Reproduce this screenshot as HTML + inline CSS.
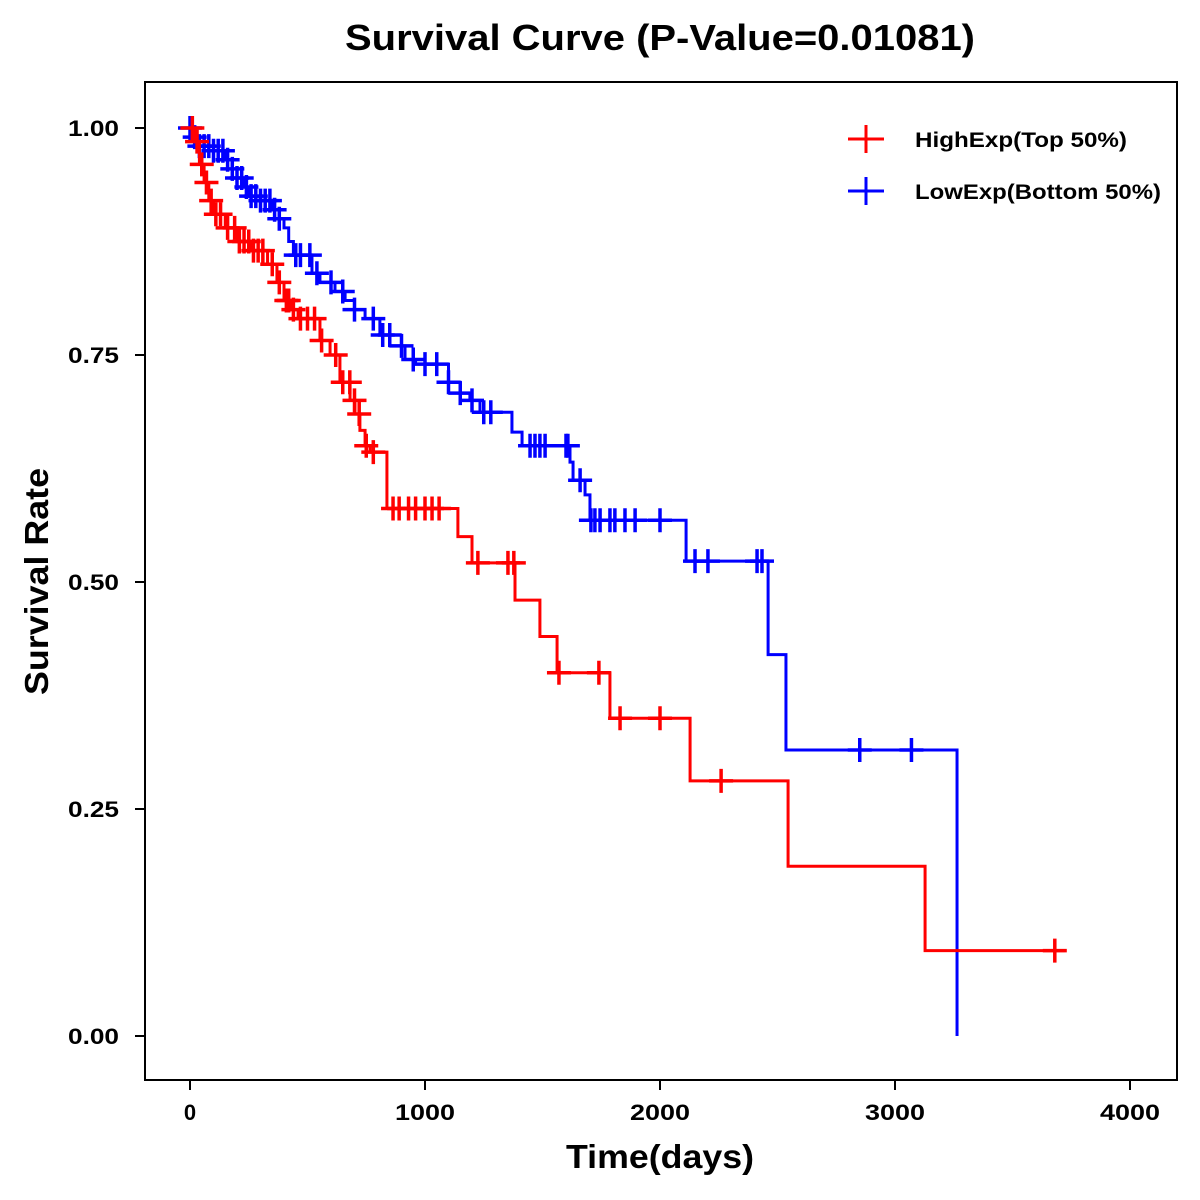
<!DOCTYPE html>
<html><head><meta charset="utf-8"><style>
body{margin:0;background:#fff;}
svg{display:block;font-family:"Liberation Sans",Arial,sans-serif;}
</style></head><body>
<svg id="chart" width="1200" height="1200">
<text x="345" y="50" font-size="36" font-weight="bold" textLength="630" lengthAdjust="spacingAndGlyphs">Survival Curve (P-Value=0.01081)</text>
<rect x="145" y="82" width="1032" height="998" fill="none" stroke="#000" stroke-width="2"/>
<text x="566" y="1168" font-size="33" font-weight="bold" textLength="188" lengthAdjust="spacingAndGlyphs">Time(days)</text>
<text transform="translate(48,695) rotate(-90)" font-size="33" font-weight="bold" textLength="227" lengthAdjust="spacingAndGlyphs">Survival Rate</text>
<g id="axes"></g>
<g id="series"></g>
<g>
<line x1="848" y1="139" x2="884" y2="139" stroke="#f00" stroke-width="3"/><line x1="866" y1="125" x2="866" y2="153" stroke="#f00" stroke-width="3"/>
<text x="915" y="147" font-size="21" font-weight="bold" textLength="212" lengthAdjust="spacingAndGlyphs">HighExp(Top 50%)</text>
<line x1="848" y1="191" x2="884" y2="191" stroke="#00f" stroke-width="3"/><line x1="866" y1="177" x2="866" y2="205" stroke="#00f" stroke-width="3"/>
<text x="915" y="199" font-size="21" font-weight="bold" textLength="246" lengthAdjust="spacingAndGlyphs">LowExp(Bottom 50%)</text>
</g>
</svg>
<script>
const xTicks=[0,1000,2000,3000,4000];
const yTicks=[0,0.25,0.5,0.75,1.0];
const yTickLabels=["0.00","0.25","0.50","0.75","1.00"];
const highTimes=[0,20,40,60,80,100,150,200,260,330,370,400,430,460,553,596,638,681,702,723,745,766,838,1140,1200,1383,1489,1562,1787,2128,2545,3128];
const highSurv=[1.0,0.985,0.96,0.94,0.92,0.905,0.89,0.875,0.865,0.85,0.83,0.81,0.80,0.79,0.766,0.75,0.72,0.70,0.685,0.667,0.65,0.643,0.581,0.55,0.521,0.48,0.44,0.40,0.35,0.281,0.187,0.094];
const highEnd=3723;
const highCensor=[10,30,50,70,90,110,130,160,190,210,230,250,270,290,310,350,380,410,420,440,470,500,530,560,620,650,680,700,720,750,780,864,890,930,960,1000,1030,1060,1225,1353,1378,1570,1740,1830,2000,2260,3680];
const lowTimes=[0,20,40,100,150,180,200,230,250,300,350,380,400,420,440,519,553,617,660,700,745,808,851,915,960,1100,1149,1191,1234,1370,1413,1617,1630,1681,1702,2111,2460,2536,3264];
const lowSurv=[1.0,0.99,0.98,0.975,0.965,0.955,0.945,0.935,0.925,0.92,0.91,0.90,0.89,0.875,0.86,0.84,0.83,0.82,0.81,0.80,0.79,0.772,0.76,0.745,0.74,0.72,0.708,0.70,0.687,0.665,0.65,0.632,0.612,0.596,0.568,0.523,0.42,0.315,0.0];
const lowEnd=3264;
const lowCensor=[0,20,40,60,80,100,120,140,160,180,200,220,240,260,280,300,320,340,360,380,450,470,510,540,600,650,700,780,820,850,900,950,1000,1050,1100,1150,1200,1250,1280,1447,1468,1489,1511,1600,1608,1660,1706,1723,1745,1787,1808,1851,1894,2000,2149,2204,2413,2434,2850,3070];

const X=t=>190+t*0.235;
const Y=s=>1036-s*908;
const NS="http://www.w3.org/2000/svg";
const axes=document.getElementById('axes');
const series=document.getElementById('series');
function mk(tag,attrs,parent){const e=document.createElementNS(NS,tag);for(const k in attrs)e.setAttribute(k,attrs[k]);parent.appendChild(e);return e;}
xTicks.forEach(v=>{
  const l=mk('line',{x1:X(v),x2:X(v),y1:1080,y2:1090,stroke:'#000','stroke-width':2},axes);
  
  
  const t=mk('text',{x:X(v),y:1120,'text-anchor':'middle','font-size':22,'font-weight':'bold'},axes);
  t.textContent=v;
  if(String(v).length>1){t.setAttribute('textLength',String(v).length*15);t.setAttribute('lengthAdjust','spacingAndGlyphs');}
  
  
});
yTicks.forEach((v,i)=>{
  const l=mk('line',{x1:135,x2:145,y1:Y(v),y2:Y(v),stroke:'#000','stroke-width':2},axes);
  
  
  const t=mk('text',{x:68,y:Y(v)+8,'font-size':22,'font-weight':'bold',textLength:51,lengthAdjust:'spacingAndGlyphs'},axes);
  t.textContent=yTickLabels[i];
  
  
});
function survAt(times,surv,t){let s=surv[0];for(let i=0;i<times.length;i++){if(times[i]<=t)s=surv[i];}return s;}
function draw(times,surv,end,cens,color,name){
  let d='M'+X(times[0])+','+Y(surv[0]);
  for(let i=1;i<times.length;i++){d+=' H'+X(times[i])+' V'+Y(surv[i]);}
  d+=' H'+X(end);
  const p=mk('path',{d:d,fill:'none',stroke:color,'stroke-width':3},series);
  
  
  cens.forEach(c=>{
    const s=survAt(times,surv,c);
    const g=mk('path',{d:'M'+(X(c)-12)+','+Y(s)+' H'+(X(c)+12)+' M'+X(c)+','+(Y(s)-12)+' V'+(Y(s)+12),stroke:color,'stroke-width':3.5,fill:'none'},series);
    
    
  });
}
draw(lowTimes,lowSurv,lowEnd,lowCensor,'#00f','low-exp');
draw(highTimes,highSurv,highEnd,highCensor,'#f00','high-exp');
</script>
</body></html>
